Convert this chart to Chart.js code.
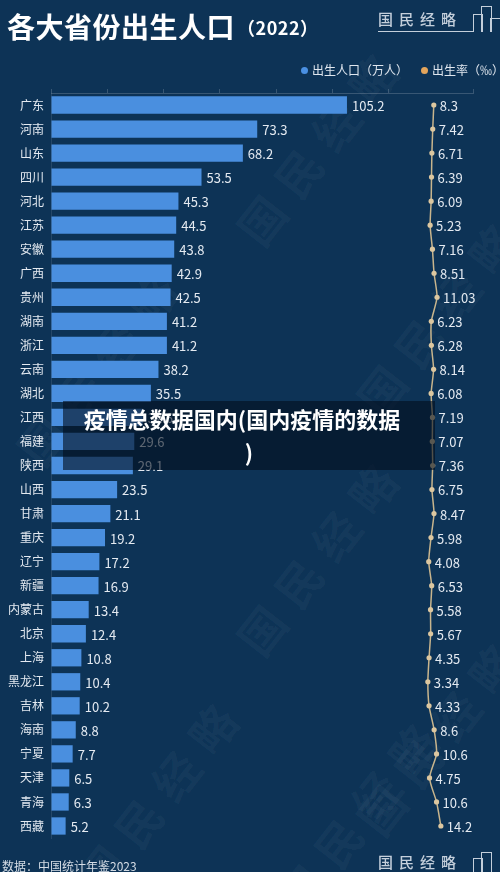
<!DOCTYPE html>
<html lang="zh">
<head>
<meta charset="utf-8">
<title>各大省份出生人口（2022）</title>
<script src="https://cdn.jsdelivr.net/npm/chart.js@4.4.1/dist/chart.umd.min.js"></script>
<style>
  html, body { margin: 0; padding: 0; }
  body {
    width: 500px; height: 872px; overflow: hidden; position: relative;
    background: #0d3356;
    font-family: "Noto Sans CJK SC", "Noto Sans", sans-serif;
  }
  #chart { position: absolute; left: 0; top: 0; z-index: 2; }
  .title {
    position: absolute; left: 7px; top: 6px; z-index: 3;
    color: #fff; font-weight: 700; font-size: 28px; letter-spacing: 0.5px; white-space: nowrap;
  }
  .title small { font-size: 18px; font-weight: 700; margin-left: 2px; vertical-align: 3px; }
  .logo {
    position: absolute; left: 378px; z-index: 3; color: #c4cfdb;
    font-size: 15px; letter-spacing: 6px; white-space: nowrap; font-weight: 500;
  }
  .logo-line { position: absolute; height: 1px; background: #c4cfdb; z-index: 3; }
  .bldg { position: absolute; border: 1px solid #c4cfdb; border-bottom: none; z-index: 3; }
  .legend {
    position: absolute; top: 61px; z-index: 3; color: #dfe6ee; font-size: 12px; white-space: nowrap;
  }
  .legend i {
    display: inline-block; width: 7px; height: 7px; border-radius: 50%;
    margin-right: 4px; vertical-align: 1px;
  }
  .source { position: absolute; left: 2px; top: 857px; color: #d5dde6; font-size: 12px; z-index: 3; }
  .mark {
    position: absolute; z-index: 1; color: rgba(255,255,255,0.035);
    font-size: 46px; font-weight: 700; letter-spacing: 14px; white-space: nowrap;
    transform: rotate(-52deg); transform-origin: center;
  }
  .overlay {
    position: absolute; left: 63px; top: 401px; width: 372px; height: 69px; z-index: 4;
    background: rgba(2, 14, 28, 0.6); color: #fff; font-weight: 700; font-size: 22px;
    line-height: 33px; text-align: center; padding: 1px 14px 0 0; box-sizing: border-box;
    white-space: nowrap;
  }
</style>
</head>
<body>
<div class="mark" style="left:200px; top:110px;">国民经略</div>
<div class="mark" style="left:320px; top:280px;">国民经略</div>
<div class="mark" style="left:-20px; top:330px;">国民经略</div>
<div class="mark" style="left:200px; top:520px;">国民经略</div>
<div class="mark" style="left:320px; top:700px;">国民经略</div>
<div class="mark" style="left:40px; top:760px;">国民经略</div>
<div class="mark" style="left:240px; top:780px;">国民经略</div>

<div class="title">各大省份出生人口<small>（2022）</small></div>

<div class="logo" style="top:8px;">国民经略</div>
<div class="logo-line" style="left:378px; top:31px; width:95px;"></div>
<div class="bldg" style="left:473px; top:14px; width:8px; height:17px;"></div>
<div class="bldg" style="left:481px; top:6px; width:9px; height:25px;"></div>
<div class="bldg" style="left:490px; top:18px; width:12px; height:13px;"></div>

<div class="legend" style="left:301px;"><i style="background:#4a90e2"></i>出生人口（万人）</div>
<div class="legend" style="left:421px;"><i style="background:#e3a55c"></i>出生率（‰）</div>

<canvas id="chart" width="500" height="872"></canvas>

<div class="overlay">疫情总数据国内(国内疫情的数据<br><span style="padding-left:14px">)</span></div>

<div class="source">数据：中国统计年鉴2023</div>
<div class="logo" style="top:851px;">国民经略</div>
<div class="bldg" style="left:473px; top:858px; width:8px; height:14px;"></div>
<div class="bldg" style="left:481px; top:852px; width:9px; height:20px;"></div>

<script>
// 数据：中国统计年鉴2023
const provinces = ['广东', '河南', '山东', '四川', '河北', '江苏', '安徽', '广西', '贵州', '湖南',
  '浙江', '云南', '湖北', '江西', '福建', '陕西', '山西', '甘肃', '重庆', '辽宁',
  '新疆', '内蒙古', '北京', '上海', '黑龙江', '吉林', '海南', '宁夏', '天津', '青海', '西藏'];

// 出生人口（万人）
const births = [105.2, 73.3, 68.2, 53.5, 45.3, 44.5, 43.8, 42.9, 42.5, 41.2,
  41.2, 38.2, 35.5, 32.6, 29.6, 29.1, 23.5, 21.1, 19.2, 17.2,
  16.9, 13.4, 12.4, 10.8, 10.4, 10.2, 8.8, 7.7, 6.5, 6.3, 5.2];

// 出生率（‰）
const birthRates = [8.3, 7.42, 6.71, 6.39, 6.09, 5.23, 7.16, 8.51, 11.03, 6.23,
  6.28, 8.14, 6.08, 7.19, 7.07, 7.36, 6.75, 8.47, 5.98, 4.08,
  6.53, 5.58, 5.67, 4.35, 3.34, 4.33, 8.6, 10.6, 4.75, 10.6, 14.2];

const birthAxis = { min: 0, max: 150, step: 20 };
const rateAxis = { min: -311, max: 41 };

const BAR_COLOR = '#4a8fdf';
const LINE_COLOR = '#c8b58d';
const POINT_COLOR = '#dcc7a0';
const TEXT_COLOR = '#e4eaf1';
const FONT = '"Noto Sans CJK SC", "Noto Sans", sans-serif';

// value labels at the end of bars and next to the points
const valueLabels = {
  id: 'valueLabels',
  afterDatasetsDraw(chart) {
    const ctx = chart.ctx;
    ctx.save();
    ctx.font = '13px ' + FONT;
    ctx.fillStyle = TEXT_COLOR;
    ctx.textBaseline = 'middle';
    ctx.textAlign = 'left';

    chart.getDatasetMeta(1).data.forEach((bar, i) => {
      ctx.fillText(String(births[i]), bar.x + 5, bar.y + 1);
    });
    chart.getDatasetMeta(0).data.forEach((pt, i) => {
      ctx.fillText(String(birthRates[i]), pt.x + 6, pt.y + 1);
    });
    ctx.restore();
  }
};

new Chart(document.getElementById('chart'), {
  type: 'bar',
  data: {
    labels: provinces,
    datasets: [
      {
        type: 'line',
        label: '出生率（‰）',
        data: birthRates,
        xAxisID: 'x2',
        borderColor: LINE_COLOR,
        borderWidth: 1.5,
        tension: 0.2,
        pointRadius: 2.6,
        pointBackgroundColor: POINT_COLOR,
        pointBorderWidth: 0,
        order: 0
      },
      {
        type: 'bar',
        label: '出生人口（万人）',
        data: births,
        xAxisID: 'x',
        backgroundColor: BAR_COLOR,
        barPercentage: 0.72,
        categoryPercentage: 1,
        order: 1
      }
    ]
  },
  options: {
    indexAxis: 'y',
    responsive: false,
    animation: false,
    layout: { padding: { top: 89, right: 27, bottom: 34, left: 0 } },
    plugins: {
      legend: { display: false },
      tooltip: { enabled: false }
    },
    scales: {
      x: {
        position: 'top',
        min: birthAxis.min,
        max: birthAxis.max,
        ticks: { display: false, stepSize: birthAxis.step },
        grid: { drawOnChartArea: false, drawTicks: true, tickLength: 4, color: 'rgba(255,255,255,0.18)' },
        border: { display: true, color: 'rgba(255,255,255,0.18)' },
        afterFit(scale) { scale.height = 4; }
      },
      x2: {
        type: 'linear',
        display: false,
        min: rateAxis.min,
        max: rateAxis.max
      },
      y: {
        ticks: { color: TEXT_COLOR, font: { size: 12, family: FONT }, padding: 7 },
        grid: { display: false, drawTicks: false },
        border: { display: true, color: 'rgba(255,255,255,0.10)' },
        afterFit(scale) { scale.width = 51; }
      }
    }
  },
  plugins: [valueLabels]
});
</script>
</body>
</html>
